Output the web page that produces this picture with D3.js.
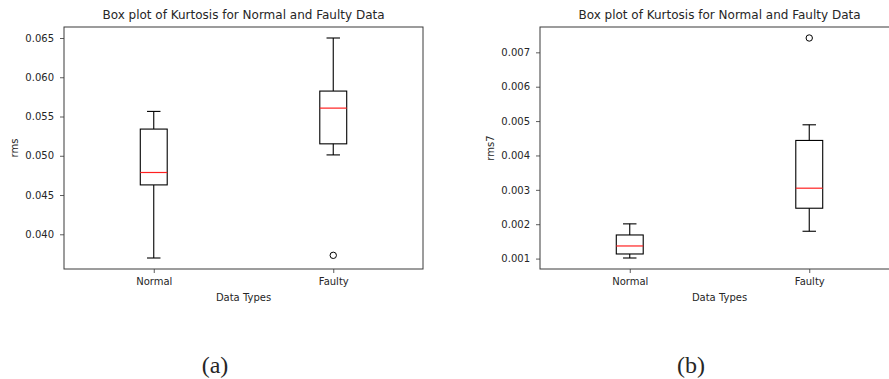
<!DOCTYPE html>
<html>
<head>
<meta charset="utf-8">
<script src="https://cdn.jsdelivr.net/npm/d3@7"></script>
<style>
  body { margin: 0; background: #fff; }
  svg { display: block; }
  text { font-family: "DejaVu Sans", sans-serif; fill: #262626; }
</style>
</head>
<body>
<svg id="chart" width="889" height="379"></svg>
<script>
// ---- data ----
const categories = ["Normal", "Faulty"];
// [lowWhisker, Q1, median, Q3, highWhisker]
const rmsNormal = [0.03698, 0.04629, 0.04787, 0.0534, 0.05565];
const rmsFaulty = [0.05011, 0.05152, 0.05607, 0.05824, 0.0650];
const rmsOutliers = [[], [0.03732]];
const rms7Normal = [0.001017, 0.001134, 0.001367, 0.001687, 0.00201];
const rms7Faulty = [0.001795, 0.002465, 0.003048, 0.004437, 0.004892];
const rms7Outliers = [[], [0.007417]];
const rmsTicks = [0.040, 0.045, 0.050, 0.055, 0.060, 0.065];
const rms7Ticks = [0.001, 0.002, 0.003, 0.004, 0.005, 0.006, 0.007];
const titleText = "Box plot of Kurtosis for Normal and Faulty Data";
const xLabel = "Data Types";
const panelLabels = ["(a)", "(b)"];

const svg = d3.select("#chart");

function panel(opt) {
  const {left, top, width, height, stats, outliers, ticks, yLabel, fmt, caption, captionX} = opt;
  const g = svg.append("g");
  const allVals = stats.flat().concat(outliers.flat());
  const lo = d3.min(allVals), hi = d3.max(allVals);
  const m = (hi - lo) * 0.05;
  const y = d3.scaleLinear().domain([lo - m, hi + m]).range([top + height, top]);
  const x = d3.scaleLinear().domain([0.5, 2.5]).range([left, left + width]);
  const boxW = x(1.15) - x(1);
  const capW = boxW / 2;

  // y axis
  const yAxis = d3.axisLeft(y).tickValues(ticks).tickFormat(fmt).tickSize(4).tickPadding(6);
  const ya = g.append("g").attr("transform", `translate(${left},0)`).call(yAxis);
  ya.select(".domain").remove();
  ya.selectAll("line").attr("stroke", "#333").attr("stroke-width", 0.8);
  ya.selectAll("text").attr("font-size", "10px").attr("fill", "#262626")
    .attr("font-family", "DejaVu Sans, sans-serif");

  // x axis
  const xAxis = d3.axisBottom(x).tickValues([1, 2]).tickFormat((d, i) => categories[i]).tickSize(4).tickPadding(5);
  const xa = g.append("g").attr("transform", `translate(0,${top + height})`).call(xAxis);
  xa.select(".domain").remove();
  xa.selectAll("line").attr("stroke", "#333").attr("stroke-width", 0.8);
  xa.selectAll("text").attr("font-size", "10px").attr("fill", "#262626")
    .attr("font-family", "DejaVu Sans, sans-serif");

  // frame
  g.append("rect").attr("x", left).attr("y", top).attr("width", width).attr("height", height)
    .attr("fill", "none").attr("stroke", "#3a3a3a").attr("stroke-width", 1);

  // boxes
  stats.forEach((s, i) => {
    const cx = x(i + 1);
    const [w0, q1, med, q3, w1] = s;
    const bg = g.append("g").attr("stroke", "#000").attr("stroke-width", 1.1).attr("fill", "none");
    bg.append("line").attr("x1", cx).attr("x2", cx).attr("y1", y(w0)).attr("y2", y(q1));
    bg.append("line").attr("x1", cx).attr("x2", cx).attr("y1", y(q3)).attr("y2", y(w1));
    bg.append("line").attr("x1", cx - capW / 2).attr("x2", cx + capW / 2).attr("y1", y(w0)).attr("y2", y(w0));
    bg.append("line").attr("x1", cx - capW / 2).attr("x2", cx + capW / 2).attr("y1", y(w1)).attr("y2", y(w1));
    bg.append("rect").attr("x", cx - boxW / 2).attr("y", y(q3)).attr("width", boxW).attr("height", y(q1) - y(q3));
    g.append("line").attr("x1", cx - boxW / 2).attr("x2", cx + boxW / 2).attr("y1", y(med)).attr("y2", y(med))
      .attr("stroke", "#ff2020").attr("stroke-width", 1.2);
    outliers[i].forEach(o => {
      g.append("circle").attr("cx", cx).attr("cy", y(o)).attr("r", 3.2)
        .attr("fill", "none").attr("stroke", "#000").attr("stroke-width", 1);
    });
  });

  // title
  g.append("text").attr("x", left + width / 2).attr("y", top - 8).attr("text-anchor", "middle")
    .attr("font-size", "12px").text(titleText);
  // x label
  g.append("text").attr("x", left + width / 2).attr("y", top + height + 32).attr("text-anchor", "middle")
    .attr("font-size", "10px").text(xLabel);
  // y label
  g.append("text").attr("transform", `translate(${opt.yLabelX},${top + height / 2}) rotate(-90)`)
    .attr("text-anchor", "middle").attr("font-size", "10px").text(yLabel);
  // caption
  svg.append("text").attr("x", captionX).attr("y", 373).attr("text-anchor", "middle")
    .attr("font-size", "24px").attr("fill", "#000")
    .style("font-family", "'Liberation Serif', 'Times New Roman', serif").text(caption);
}

panel({left: 64, top: 27, width: 359, height: 242, stats: [rmsNormal, rmsFaulty], outliers: rmsOutliers,
  ticks: rmsTicks, yLabel: "rms", fmt: d3.format(".3f"), caption: panelLabels[0], captionX: 215, yLabelX: 18});
panel({left: 540, top: 27, width: 359, height: 242, stats: [rms7Normal, rms7Faulty], outliers: rms7Outliers,
  ticks: rms7Ticks, yLabel: "rms7", fmt: d3.format(".3f"), caption: panelLabels[1], captionX: 691, yLabelX: 494});
</script>
</body>
</html>
